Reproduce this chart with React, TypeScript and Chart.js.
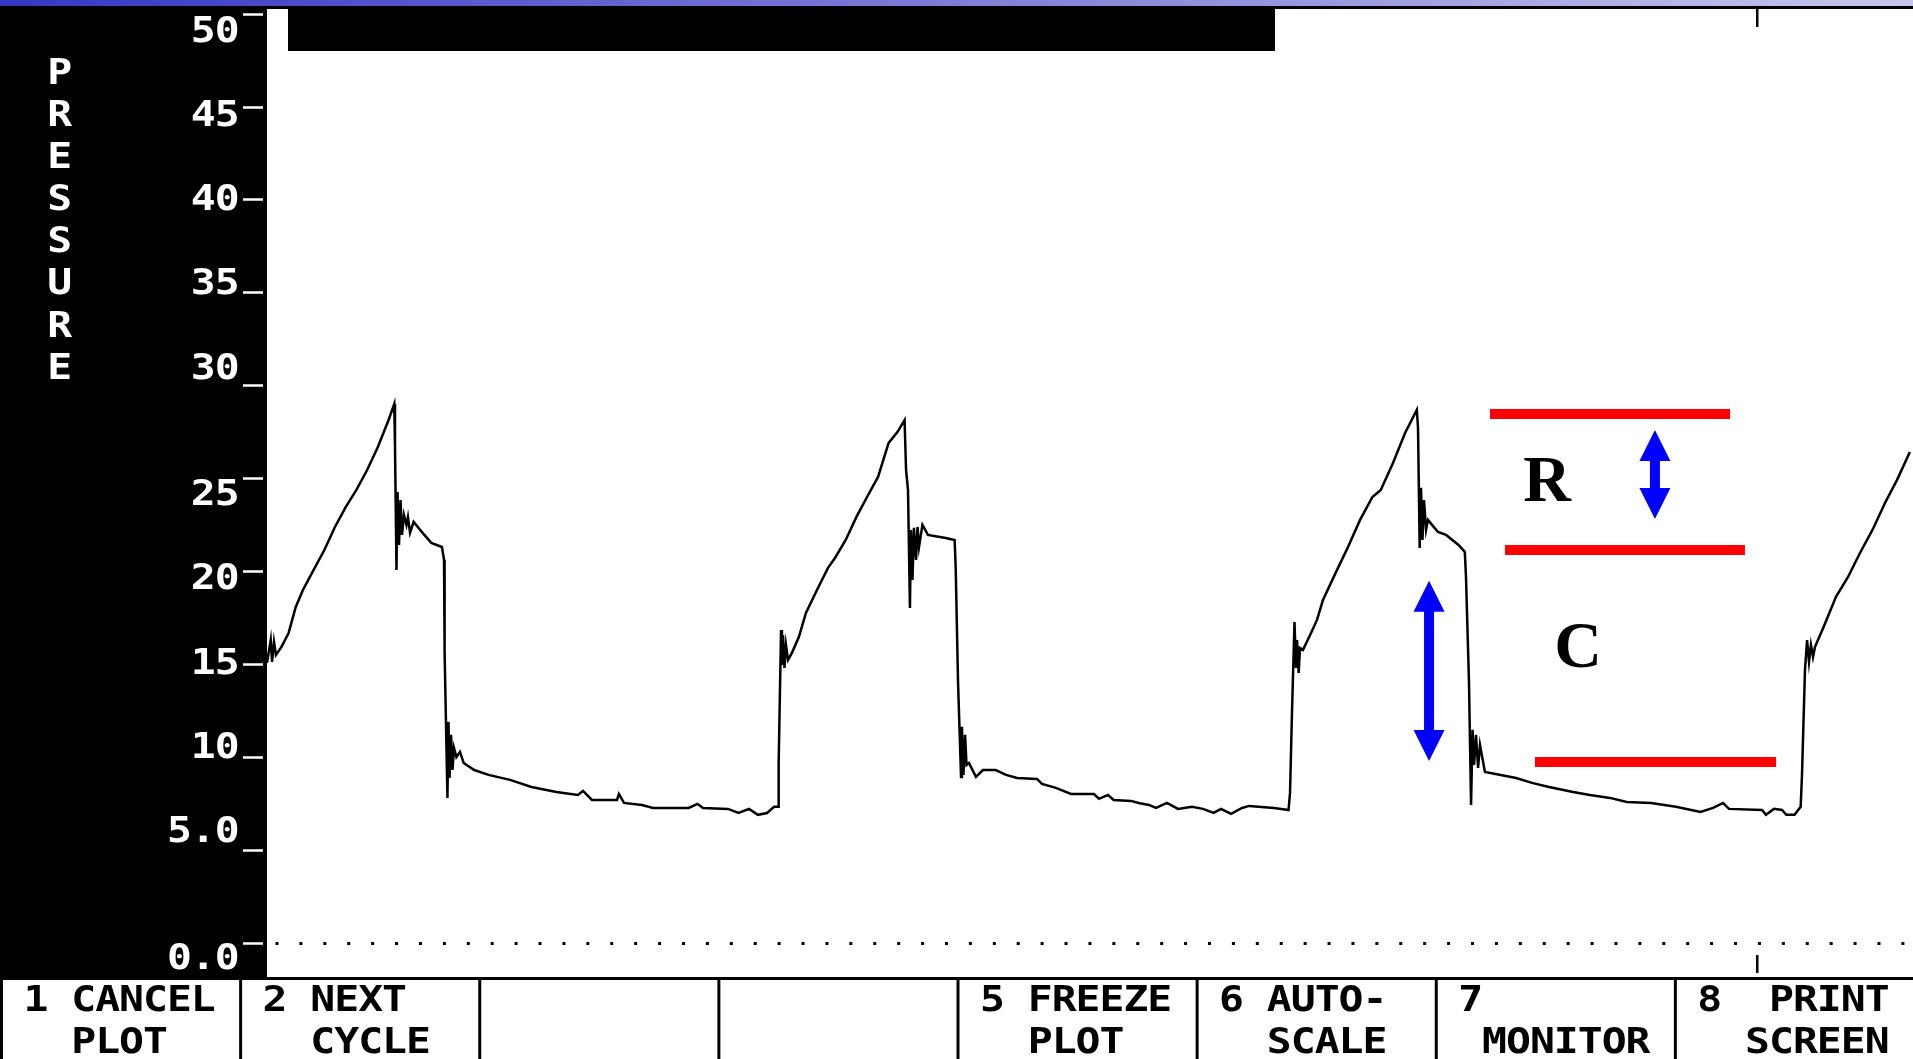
import React, { useEffect, useRef } from "react";
import { Chart, registerables } from "chart.js";

Chart.register(...registerables);

// ---- Airway pressure trace (time in s, pressure in cmH2O) ----
const TIME_S = [
  0.0, 0.025, 0.034, 0.047, 0.06, 0.097, 0.145, 0.193, 0.241, 0.313, 0.385, 0.456, 0.528, 0.6, 0.672, 0.744, 0.816, 0.854,
  0.859, 0.869, 0.876, 0.886, 0.896, 0.906, 0.919, 0.936, 0.946, 0.96, 0.984, 1.056, 1.103, 1.174, 1.188, 1.192, 1.211,
  1.218, 1.225, 1.235, 1.245, 1.255, 1.271, 1.295, 1.32, 1.391, 1.487, 1.631, 1.775, 1.942, 2.087, 2.121, 2.181, 2.349,
  2.362, 2.396, 2.517, 2.591, 2.83, 2.889, 2.926, 3.094, 3.165, 3.235, 3.295, 3.356, 3.403, 3.43,
  3.434, 3.45, 3.456, 3.463, 3.473, 3.483, 3.497, 3.523, 3.57, 3.617, 3.691, 3.765, 3.812, 3.884, 3.956, 4.027, 4.101,
  4.172, 4.232, 4.279, 4.289, 4.302, 4.315, 4.322, 4.332, 4.342, 4.356, 4.366, 4.376, 4.399, 4.436, 4.555, 4.615, 4.622,
  4.638, 4.658, 4.664, 4.674, 4.685, 4.695, 4.711, 4.758, 4.805, 4.891, 4.96, 5.034, 5.168, 5.201, 5.295, 5.396, 5.55,
  5.584, 5.644, 5.682, 5.799, 5.85, 5.919, 5.966, 6.04, 6.114, 6.208, 6.282, 6.353, 6.403, 6.47, 6.544, 6.591, 6.758, 6.856,
  6.866, 6.879, 6.896, 6.906, 6.913, 6.924, 6.933, 6.953, 7.007, 7.047, 7.087, 7.172, 7.255, 7.336, 7.419, 7.475, 7.557,
  7.638, 7.717, 7.725, 7.736, 7.745, 7.755, 7.765, 7.779, 7.792, 7.819, 7.859, 7.913, 7.997, 8.039, 8.047, 8.067, 8.081,
  8.091, 8.101, 8.114, 8.128, 8.141, 8.174, 8.272, 8.383, 8.49, 8.604, 8.765, 8.879, 9.013, 9.126, 9.289, 9.456, 9.621,
  9.705, 9.772, 9.812, 10.034, 10.06, 10.114, 10.168, 10.197, 10.252, 10.293,
  10.302, 10.322, 10.336, 10.349, 10.362, 10.376, 10.389, 10.447, 10.53, 10.611, 10.691, 10.775, 10.859, 10.94, 11.026,
];
const PRESSURE = [
  15.11, 16.34, 15.16, 16.24, 15.54, 15.97, 16.72, 18.12, 19.03, 20.11, 21.18, 22.42, 23.49, 24.41, 25.48, 26.72, 28.17, 29.03,
  26.83, 20.11, 24.3, 21.45, 23.87, 21.99, 23.06, 22.53, 22.96, 22.1, 22.69, 21.99, 21.56, 21.34, 20.65, 15.7, 7.85,
  11.94, 8.92, 11.24, 9.35, 10.54, 10.05, 10.32, 9.73, 9.35, 9.09, 8.82, 8.44, 8.17, 8.01, 8.23, 7.74, 7.74,
  8.06, 7.58, 7.47, 7.31, 7.31, 7.53, 7.31, 7.26, 7.04, 7.26, 6.94, 7.04, 7.37, 7.37,
  9.73, 16.88, 15.0, 16.61, 14.84, 16.08, 15.27, 15.65, 16.51, 17.8, 19.03, 20.22, 20.75, 21.72, 22.96, 24.03, 25.11,
  26.94, 27.53, 28.17, 25.48, 24.41, 18.06, 22.26, 19.57, 22.37, 20.65, 22.42, 21.34, 22.53, 21.99, 21.83, 21.72, 20.27,
  14.03, 8.98, 11.67, 9.09, 11.24, 9.62, 9.73, 8.98, 9.35, 9.35, 9.09, 8.92, 8.87, 8.6, 8.39, 8.06, 8.06,
  7.8, 8.01, 7.74, 7.69, 7.58, 7.47, 7.31, 7.58, 7.26, 7.37, 7.26, 7.04, 7.26, 6.99, 7.31, 7.42, 7.31, 7.2,
  8.12, 12.42, 17.31, 14.84, 16.34, 14.57, 15.91, 15.81, 16.72, 17.42, 18.49, 19.95, 21.34, 22.8, 24.03, 24.41, 25.86,
  27.47, 28.71, 27.74, 21.29, 24.52, 21.72, 23.87, 22.26, 22.8, 22.53, 22.15, 21.99, 21.45, 21.08, 19.73, 14.09, 7.47,
  11.51, 9.62, 11.24, 9.46, 10.7, 9.25, 9.09, 8.92, 8.66, 8.44, 8.17, 8.01, 7.85, 7.63, 7.58, 7.37, 7.1,
  7.31, 7.58, 7.26, 7.2, 6.94, 7.26, 7.2, 6.94, 6.94, 7.37,
  9.09, 14.73, 16.34, 15.16, 16.08, 15.43, 15.97, 17.04, 18.66, 19.73, 21.02, 22.26, 23.71, 24.95, 26.45,
];

// ---- Axes ----
const Y_TICKS = [0, 5, 10, 15, 20, 25, 30, 35, 40, 45, 50];
const X_TICKS = [10];
const Y_MIN = -1.78;
const Y_MAX = 50.27;
const X_MIN = 0;
const X_MAX = 11.047;
const AXIS_WORD = "PRESSURE";

// ---- Annotations (red levels, blue arrows, letters) ----
const RED_T_START = [8.208, 8.309, 8.51];
const RED_T_END = [9.819, 9.919, 10.128];
const RED_P = [28.49, 21.18, 9.78];
const ARROW_T = [9.315, 7.799];
const ARROW_P_TOP = [27.63, 19.52];
const ARROW_P_BOTTOM = [22.85, 9.84];
const NOTE_TEXT = ["R", "C"];
const NOTE_T = [8.591, 8.799];
const NOTE_P = [25.0, 16.08];

// ---- Function-key bar ----
const BUTTON_LINE1 = ["1 CANCEL", "2 NEXT", "", "", "5 FREEZE", "6 AUTO-", "7", "8  PRINT"];
const BUTTON_LINE2 = ["  PLOT", "  CYCLE", "", "", "  PLOT", "  SCALE", " MONITOR", "  SCREEN"];

// text-screen grid
const COLS = 80;
const ROW_H = 42.15;
const ROW0 = 28.5;
const FONT = 'bold 36px "DejaVu Sans Mono"';

function drawGridText(ctx: CanvasRenderingContext2D, text: string, col: number, baseline: number, color: string, cellW: number) {
  ctx.save();
  ctx.font = FONT;
  ctx.fillStyle = color;
  ctx.textAlign = "center";
  ctx.textBaseline = "alphabetic";
  for (let k = 0; k < text.length; k++) {
    const ch = text[k];
    if (ch === " ") continue;
    ctx.save();
    ctx.translate((col + k + 0.5) * cellW, baseline);
    ctx.scale(1.15, 1);
    ctx.fillText(ch, 0, 0);
    ctx.restore();
  }
  ctx.restore();
}

function fmtTick(v: number) {
  return v >= 10 ? String(v) : v.toFixed(1);
}

const screenPlugin = {
  id: "screen",
  beforeDraw(chart: any) {
    const { ctx, width, height, chartArea: a } = chart;
    const cellW = width / COLS;
    ctx.save();
    ctx.fillStyle = "#000";
    ctx.fillRect(0, 0, width, height);
    const g = ctx.createLinearGradient(0, 0, width, 0);
    g.addColorStop(0, "#3636c4");
    g.addColorStop(1, "#c6c6ec");
    ctx.fillStyle = g;
    ctx.fillRect(0, 0, width, 6);
    ctx.fillStyle = "#fff";
    ctx.fillRect(a.left, a.top, a.right - a.left, a.bottom - a.top);
    const barTop = a.bottom + 3;
    for (let i = 0; i < 8; i++) {
      const x0 = i * 10 * cellW + 3;
      const x1 = (i + 1) * 10 * cellW;
      ctx.fillRect(x0, barTop, x1 - x0, height - barTop);
    }
    ctx.restore();
  },
  afterDatasetsDraw(chart: any) {
    const { ctx, scales } = chart;
    const xs = scales.x;
    const ys = scales.y;
    ctx.save();
    // black title block on the top of the plot
    ctx.fillStyle = "#000";
    ctx.fillRect(288, chart.chartArea.top, 987, 42);
    // blue double arrows
    ctx.fillStyle = "#0000ff";
    const hw = 15.5, hl = 31, sw = 5;
    for (let i = 0; i < ARROW_T.length; i++) {
      const x = xs.getPixelForValue(ARROW_T[i]);
      const yT = ys.getPixelForValue(ARROW_P_TOP[i]);
      const yB = ys.getPixelForValue(ARROW_P_BOTTOM[i]);
      ctx.beginPath();
      ctx.moveTo(x, yT);
      ctx.lineTo(x + hw, yT + hl);
      ctx.lineTo(x + sw, yT + hl);
      ctx.lineTo(x + sw, yB - hl);
      ctx.lineTo(x + hw, yB - hl);
      ctx.lineTo(x, yB);
      ctx.lineTo(x - hw, yB - hl);
      ctx.lineTo(x - sw, yB - hl);
      ctx.lineTo(x - sw, yT + hl);
      ctx.lineTo(x - hw, yT + hl);
      ctx.closePath();
      ctx.fill();
    }
    // letters
    ctx.fillStyle = "#000";
    ctx.font = 'bold 66px "Liberation Serif"';
    ctx.textAlign = "center";
    ctx.textBaseline = "alphabetic";
    for (let i = 0; i < NOTE_TEXT.length; i++) {
      ctx.fillText(NOTE_TEXT[i], xs.getPixelForValue(NOTE_T[i]), ys.getPixelForValue(NOTE_P[i]) + 22);
    }
    ctx.restore();
  },
  afterDraw(chart: any) {
    const { ctx, width, scales } = chart;
    const cellW = width / COLS;
    const ys = scales.y;
    // y tick labels snapped to the text rows of the screen
    ys.ticks.forEach((t: any) => {
      const py = ys.getPixelForValue(t.value);
      const row = Math.floor((py - ROW0) / ROW_H + 0.45);
      const label = fmtTick(t.value);
      drawGridText(ctx, label, 10 - label.length, ROW0 + row * ROW_H + 13, "#fff", cellW);
    });
    // vertical axis word
    for (let k = 0; k < AXIS_WORD.length; k++) {
      drawGridText(ctx, AXIS_WORD[k], 2, ROW0 + (k + 1) * ROW_H + 13, "#fff", cellW);
    }
    // function keys
    for (let i = 0; i < BUTTON_LINE1.length; i++) {
      drawGridText(ctx, BUTTON_LINE1[i], i * 10 + 1, ROW0 + 23 * ROW_H + 13, "#000", cellW);
      drawGridText(ctx, BUTTON_LINE2[i], i * 10 + 1, ROW0 + 24 * ROW_H + 13, "#000", cellW);
    }
  },
};

export default function App() {
  const ref = useRef<HTMLCanvasElement | null>(null);
  useEffect(() => {
    document.body.style.margin = "0";
    document.body.style.overflow = "hidden";
    const canvas = ref.current!;
    const datasets: any[] = [
      {
        data: TIME_S.map((t, i) => ({ x: t, y: PRESSURE[i] })),
        borderColor: "#000",
        borderWidth: 2.5,
        pointRadius: 0,
        tension: 0,
        fill: false,
      },
    ];
    for (let i = 0; i < RED_P.length; i++) {
      datasets.push({
        data: [
          { x: RED_T_START[i], y: RED_P[i] },
          { x: RED_T_END[i], y: RED_P[i] },
        ],
        borderColor: "#ff0000",
        borderWidth: 10,
        borderCapStyle: "butt",
        pointRadius: 0,
        fill: false,
      });
    }
    const chart = new Chart(canvas, {
      type: "line",
      data: { datasets },
      options: {
        animation: false,
        responsive: false,
        devicePixelRatio: 1,
        events: [],
        layout: { padding: { top: 9, bottom: 82, left: 0, right: 0 } },
        plugins: { legend: { display: false }, tooltip: { enabled: false } },
        scales: {
          x: {
            type: "linear",
            min: X_MIN,
            max: X_MAX,
            position: "bottom",
            afterBuildTicks: (s: any) => {
              s.ticks = X_TICKS.map((v) => ({ value: v }));
            },
            afterFit: (s: any) => {
              s.height = 0;
            },
            ticks: { display: false },
            border: { display: false, dash: [18, 928, 18, 200] },
            grid: { color: "#000", lineWidth: 2.5, drawTicks: false },
          },
          y: {
            type: "linear",
            min: Y_MIN,
            max: Y_MAX,
            position: "left",
            afterBuildTicks: (s: any) => {
              s.ticks = Y_TICKS.map((v) => ({ value: v }));
            },
            afterFit: (s: any) => {
              s.width = 267;
            },
            ticks: { display: false },
            border: { display: false, dash: [3, 20.91], dashOffset: 15.4 },
            grid: {
              color: (c: any) => (c.tick && c.tick.value === 0 ? "#000" : "rgba(0,0,0,0)"),
              lineWidth: 3,
              drawTicks: true,
              tickLength: 24,
              tickColor: "#fff",
              tickWidth: 2.5,
              tickBorderDash: [20, 40],
            },
          },
        },
      } as any,
      plugins: [screenPlugin],
    });
    return () => chart.destroy();
  }, []);
  return <canvas ref={ref} width={1913} height={1059} style={{ display: "block", width: 1913, height: 1059 }} />;
}
